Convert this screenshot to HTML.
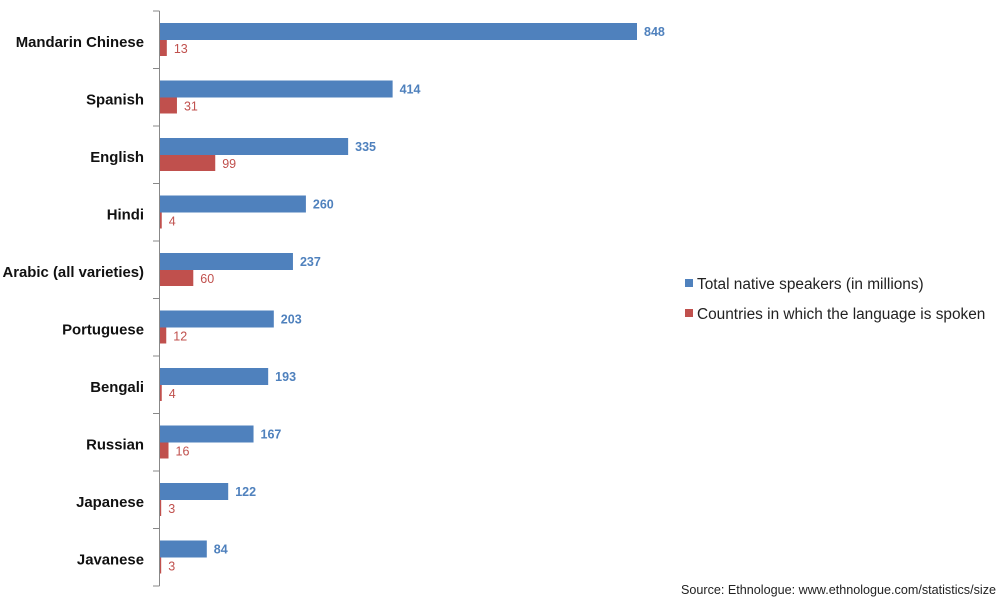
<!DOCTYPE html>
<html><head><meta charset="utf-8"><style>
body{margin:0;background:#fff;width:1000px;height:599px;overflow:hidden;font-family:"Liberation Sans",sans-serif}
</style></head><body>
<svg width="1000" height="599">
<g id="plot"></g>
<g>
<rect x="685" y="279" width="8" height="8" fill="#4f81bd"/>
<text x="697" y="289" font-size="15.4" fill="#222">Total native speakers (in millions)</text>
<rect x="685" y="309" width="8" height="8" fill="#c0504d"/>
<text x="697" y="319" font-size="15.4" fill="#222">Countries in which the language is spoken</text>
</g>
<text x="996" y="594" font-size="12.6" text-anchor="end" fill="#222">Source: Ethnologue: www.ethnologue.com/statistics/size</text>
</svg>
<script>
const categories=["Mandarin Chinese","Spanish","English","Hindi","Arabic (all varieties)","Portuguese","Bengali","Russian","Japanese","Javanese"];
const speakers=[848,414,335,260,237,203,193,167,122,84];
const countries=[13,31,99,4,60,12,4,16,3,3];
const NS="http://www.w3.org/2000/svg";
const g=document.getElementById('plot');
const x0=159.5,k=(637-159.5)/848,top0=11,band=57.5;
const xs=v=>x0+v*k;
function mk(t,a){const e=document.createElementNS(NS,t);for(const n in a)e.setAttribute(n,a[n]);g.appendChild(e);return e;}
categories.forEach((c,i)=>{
 const y=top0+i*band;
 const b=mk('rect',{x:x0,y:y+12,width:xs(speakers[i])-x0,height:17,fill:'#4f81bd'});
 
 
 const r=mk('rect',{x:x0,y:y+29,width:Math.max(xs(countries[i])-x0,1.5),height:16,fill:'#c0504d'});
 
 
 const tb=mk('text',{x:xs(speakers[i])+7,y:y+25,'font-size':12.5,'font-weight':'bold',fill:'#4f81bd'});tb.textContent=speakers[i];
 
 
 const tr=mk('text',{x:xs(countries[i])+7,y:y+42,'font-size':12.5,fill:'#c0504d'});tr.textContent=countries[i];
 
 
 const l=mk('text',{x:144,y:y+36,'font-size':14.9,'font-weight':'bold','text-anchor':'end',fill:'#111'});l.textContent=c;
 
 
});
for(let i=0;i<=categories.length;i++){
 const t=mk('line',{x1:153,x2:x0,y1:top0+i*band,y2:top0+i*band,stroke:'#888'});
 
 
}
const ax=mk('line',{x1:x0,x2:x0,y1:top0,y2:top0+categories.length*band,stroke:'#888'});


</script>
</body></html>
